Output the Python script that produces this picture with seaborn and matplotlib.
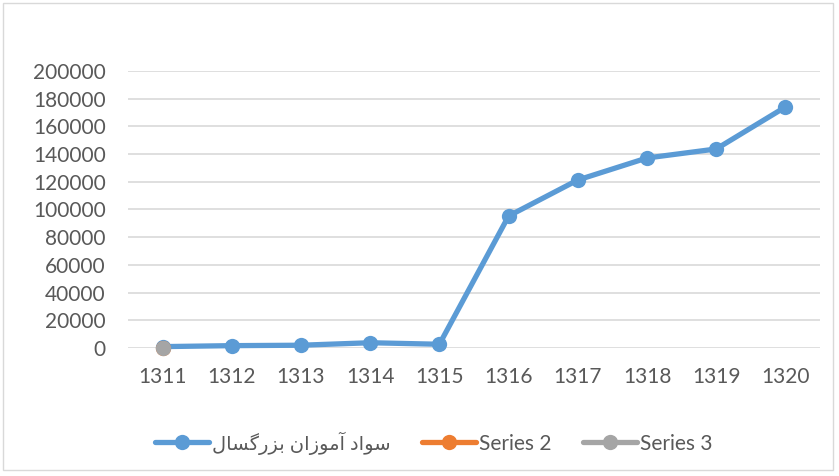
import matplotlib
matplotlib.use("Agg")
import matplotlib.pyplot as plt
import seaborn as sns
import pandas as pd
from matplotlib.patches import Rectangle

years = ["1311", "1312", "1313", "1314", "1315", "1316", "1317", "1318", "1319", "1320"]
learners = [1000, 1700, 2000, 3800, 2700, 95300, 121300, 137200, 143700, 174000]
series2 = [0]
series3 = [0]

# Persian label pre-shaped (presentation forms, visual order) since matplotlib has no shaping
shaped = [0xFEB3, 0xFEEE, 0xFE8D, 0xFEA9, 0x20,
          0xFE81, 0xFEE3, 0xFEEE, 0xFEAF, 0xFE8D, 0xFEE5, 0x20,
          0xFE91, 0xFEB0, 0xFEAD, 0xFB94, 0xFEB4, 0xFE8E, 0xFEDD]
label1 = "".join(chr(c) for c in reversed(shaped))

sns.set_theme(style="white")
plt.rcParams['font.family'] = ['Lato', 'DejaVu Sans']

blue, orange, grey = "#5B9BD5", "#ED7D31", "#A5A5A5"
txt = "#595959"

fig = plt.figure(figsize=(8.39, 4.76), dpi=100)
ax = fig.add_axes([128 / 839, 1 - 348 / 476, (820 - 128) / 839, (348 - 71) / 476])

df = pd.DataFrame({"x": range(len(years)), "y": learners})
sns.lineplot(data=df, x="x", y="y", ax=ax, color=blue, lw=3.8,
             marker="o", markersize=11, markeredgewidth=0, label=label1)
sns.lineplot(x=list(range(len(series2))), y=series2, ax=ax, color=orange, lw=3.8,
             marker="o", markersize=11, markeredgewidth=0, label="Series 2")
sns.lineplot(x=list(range(len(series3))), y=series3, ax=ax, color=grey, lw=3.8,
             marker="o", markersize=11, markeredgewidth=0, label="Series 3")

ax.set_xlim(-0.5, len(years) - 0.5)
ax.set_ylim(0, 200000)
ax.set_yticks(range(0, 200001, 20000))
ax.set_xticks(range(len(years)))
ax.set_xticklabels(years)
ax.set_xlabel("")
ax.set_ylabel("")
ax.yaxis.grid(True, color="#D9D9D9", lw=1.2)
ax.set_axisbelow(True)
for s in ax.spines.values():
    s.set_visible(False)
ax.tick_params(axis="both", length=0, labelsize=15, labelcolor=txt)
ax.tick_params(axis="x", pad=14)
ax.tick_params(axis="y", pad=16)
for ln in ax.lines:
    ln.set_clip_on(False)

leg = fig.legend(*ax.get_legend_handles_labels(), loc="center",
                 bbox_to_anchor=(434 / 839, 1 - 443 / 476), ncol=3, frameon=False,
                 fontsize=15, handlelength=2.6, columnspacing=1.5, handletextpad=0.15)
ax.get_legend().remove()
for t in leg.get_texts():
    t.set_color(txt)
leg.get_texts()[0].set_fontsize(14)

fig.patches.append(Rectangle((3 / 839, 6 / 476), 830 / 839, 467 / 476, transform=fig.transFigure,
                             fill=False, edgecolor="#D9D9D9", lw=1))

fig.savefig("out.png", dpi=100)
